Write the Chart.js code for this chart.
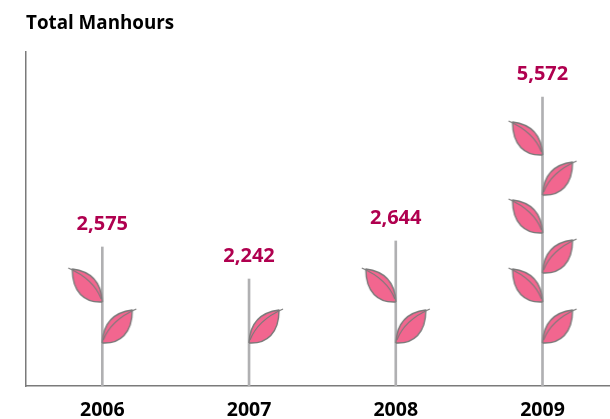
<!DOCTYPE html>
<html>
<head>
<meta charset="utf-8">
<title>Total Manhours</title>
<script src="https://cdn.jsdelivr.net/npm/chart.js@4"></script>
<style>
  html, body { margin: 0; padding: 0; background: #fff; }
  #wrap { width: 610px; height: 419px; }
</style>
</head>
<body>
<div id="wrap"><canvas id="myChart" width="610" height="419"></canvas></div>
<script>
'use strict';

const years = [2006, 2007, 2008, 2009];
const manhours = [2575, 2242, 2644, 5572];
// the stems in the picture are only roughly to scale, so their drawn heights are read separately
const stemHeights = [2680, 2063, 2796, 5572];
const leftLeafYears = [2006, 2008, 2009, 2009, 2009];
const leftLeafHeights = [1620, 1620, 1620, 2950, 4454];
const rightLeafYears = [2006, 2007, 2008, 2009, 2009, 2009];
const rightLeafHeights = [830, 830, 830, 830, 2179, 3682];

// leaf sprite: canvas centre is where the leaf joins the stem
function makeLeaf(flip) {
  const c = document.createElement('canvas');
  c.width = 90;
  c.height = 90;
  const g = c.getContext('2d');
  g.translate(45, 45);
  if (flip) g.scale(-1, 1);
  g.lineJoin = 'round';
  g.strokeStyle = '#7a7a7a';
  g.lineWidth = 1.4;
  g.beginPath();
  g.moveTo(0, 0);
  g.bezierCurveTo(18, 1, 30, -10, 30, -33);
  g.bezierCurveTo(14, -31, 1, -22, 0, 0);
  g.fillStyle = '#f2668f';
  g.fill();
  g.stroke();
  g.beginPath();
  g.moveTo(1, -3);
  g.bezierCurveTo(6, -16, 18, -27, 34, -34);
  g.lineWidth = 1.1;
  g.stroke();
  return c;
}

function pairUp(xs, ys) {
  return xs.map(function(x, i) {
    return { x: x, y: ys[i] };
  });
}

// value labels above each stem
const valueLabels = {
  id: 'valueLabels',
  afterDatasetsDraw(chart) {
    const ctx = chart.ctx;
    ctx.save();
    ctx.font = 'bold 20px "Open Sans"';
    ctx.fillStyle = '#b0004f';
    ctx.textAlign = 'center';
    ctx.textBaseline = 'middle';
    for (let i = 0; i < years.length; i++) {
      const x = chart.scales.x.getPixelForValue(years[i]);
      const y = chart.scales.y.getPixelForValue(stemHeights[i]);
      ctx.fillText(manhours[i].toLocaleString('en-US'), x, y - 23);
    }
    ctx.restore();
  }
};

new Chart(document.getElementById('myChart'), {
  data: {
    datasets: [{
      type: 'line',
      label: 'Left leaves',
      data: pairUp(leftLeafYears, leftLeafHeights),
      showLine: false,
      pointStyle: makeLeaf(true),
      order: 1
    }, {
      type: 'line',
      label: 'Right leaves',
      data: pairUp(rightLeafYears, rightLeafHeights),
      showLine: false,
      pointStyle: makeLeaf(false),
      order: 1
    }, {
      type: 'bar',
      label: 'Total Manhours',
      data: pairUp(years, stemHeights),
      backgroundColor: '#b0b0b2',
      barThickness: 2,
      order: 2
    }]
  },
  options: {
    responsive: false,
    animation: false,
    layout: { autoPadding: false, padding: { left: 26, right: 0, top: 0, bottom: 0 } },
    plugins: {
      legend: { display: false },
      tooltip: { enabled: false },
      title: {
        display: true,
        text: 'Total Manhours',
        align: 'start',
        color: '#000',
        font: { family: '"Open Sans"', size: 18.8, weight: 'bold' },
        padding: { top: 12, bottom: 17.4 }
      }
    },
    scales: {
      x: {
        type: 'linear',
        offset: false,
        min: 2005.48,
        max: 2009.46,
        afterBuildTicks(scale) {
          scale.ticks = years.map(function(y) {
            return { value: y };
          });
        },
        afterFit(scale) {
          scale.height = 33;
        },
        grid: { display: false },
        border: { color: '#7a7a7a', width: 1.5 },
        ticks: {
          autoSkip: false,
          maxRotation: 0,
          color: '#000',
          padding: 5,
          font: { family: '"Open Sans"', size: 19.5, weight: 'bold' },
          callback(value) {
            return String(value);
          }
        }
      },
      y: {
        min: 0,
        max: 6440,
        afterFit(scale) {
          scale.width = 0;
        },
        grid: { display: false },
        border: { color: '#7a7a7a', width: 1.5 },
        ticks: { display: false }
      }
    }
  },
  plugins: [valueLabels]
});
</script>
</body>
</html>
